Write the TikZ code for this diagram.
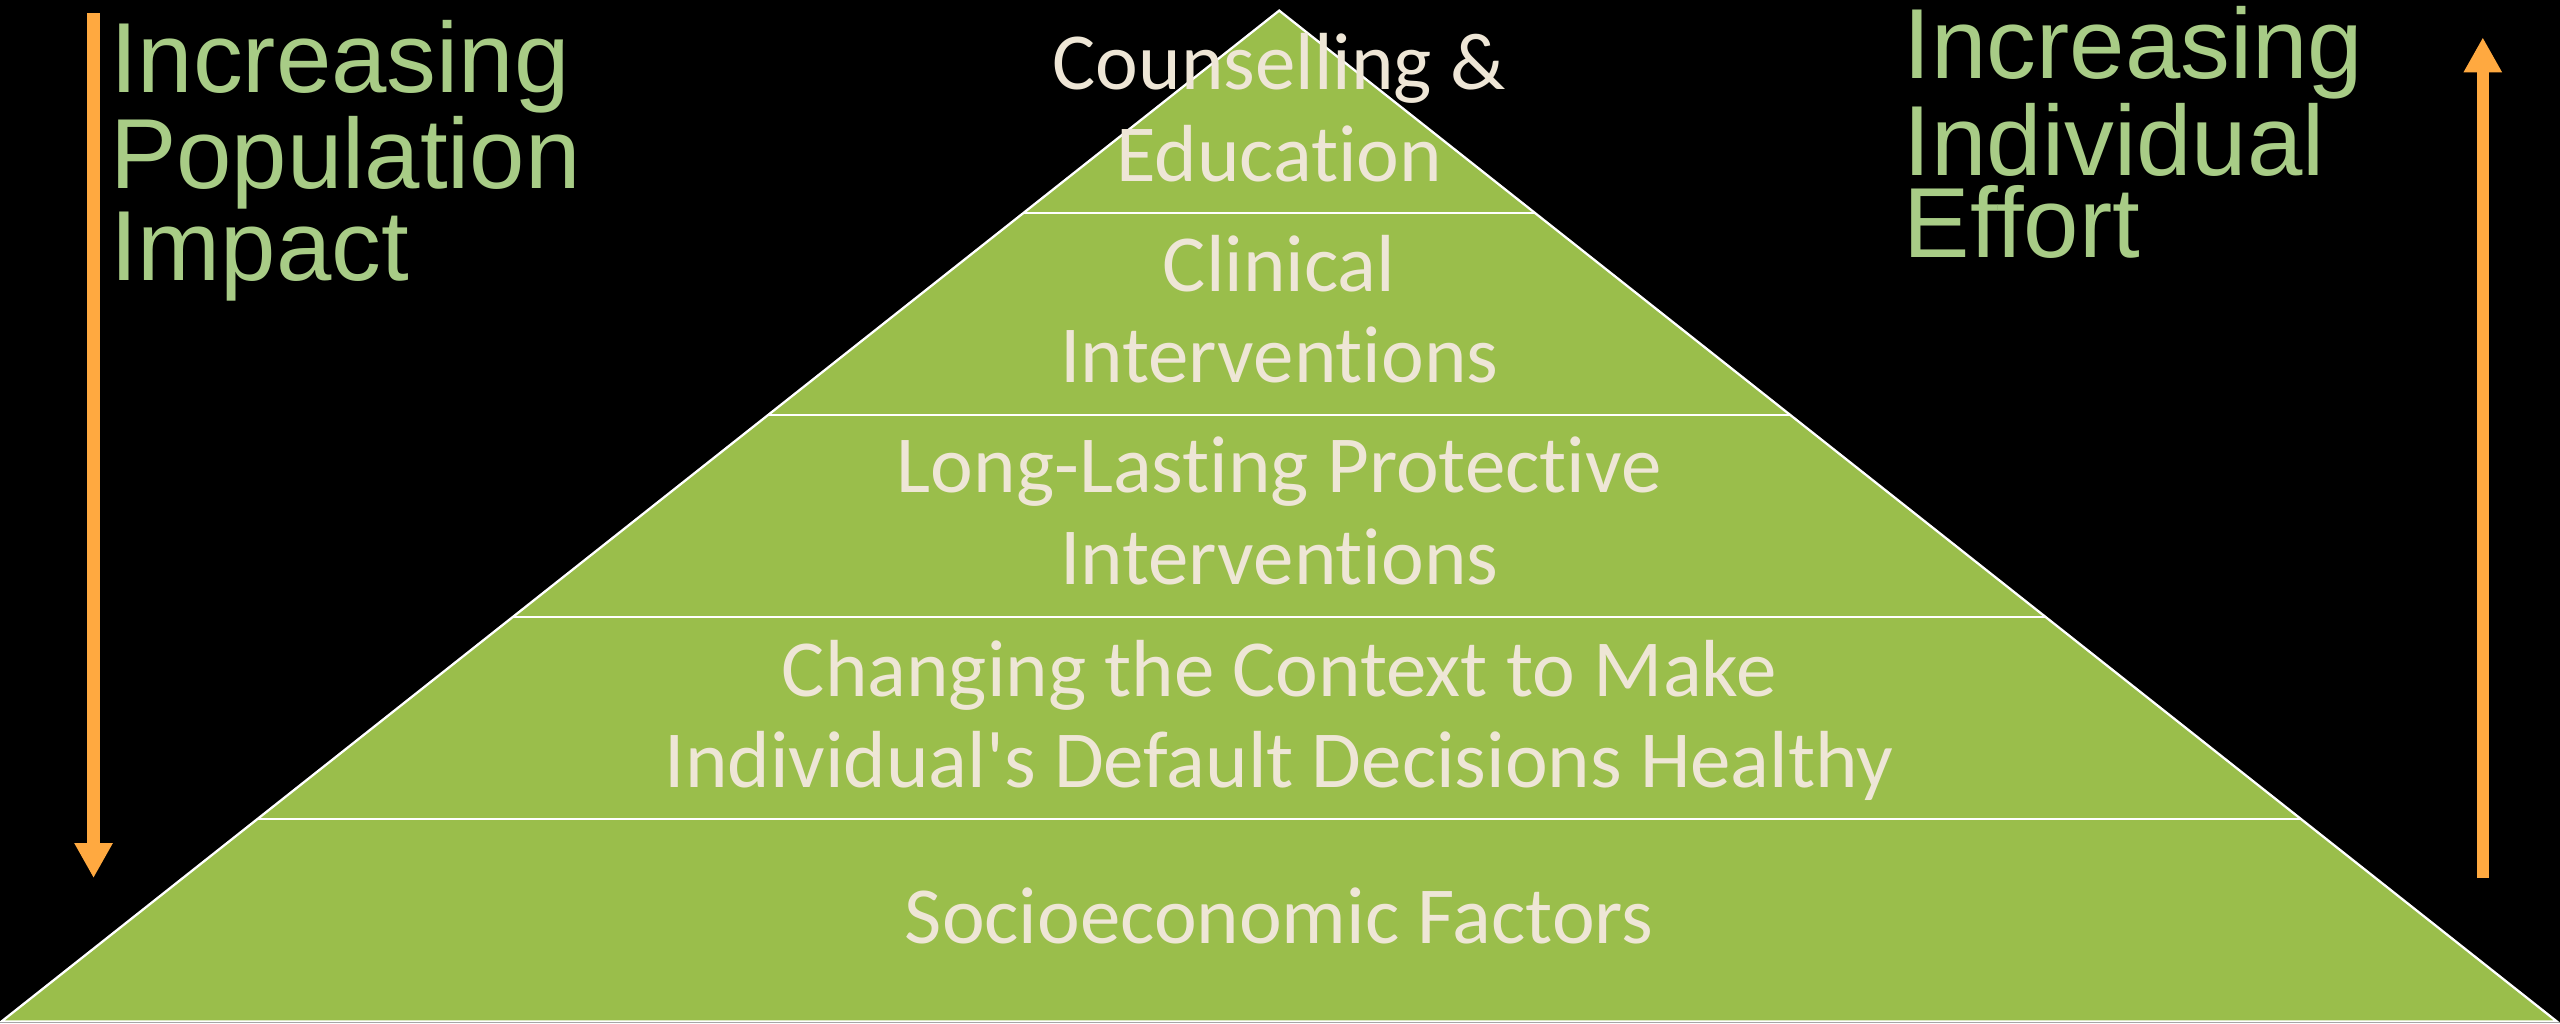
\documentclass[tikz,border=0pt]{standalone}
\usepackage{fontspec}
\usetikzlibrary{arrows.meta,calc}
\newfontfamily\pyrfont[Ligatures={NoCommon}]{Carlito}
\newfontfamily\sidefont{Liberation Sans}
\definecolor{pyrgreen}{HTML}{9ABE4B}
\definecolor{cream}{HTML}{EEE6D6}
\definecolor{sidegreen}{HTML}{A8CC86}
\definecolor{arroworange}{HTML}{FFA940}
\begin{document}
\begin{tikzpicture}[x=0.5pt,y=-0.5pt,
  layertext/.style={text=cream, font=\pyrfont\fontsize{24.8pt}{27.9pt}\selectfont, align=center, anchor=base, inner sep=0pt},
  sidetext/.style={text=sidegreen, font=\sidefont\fontsize{30.5pt}{25.3pt}\selectfont, align=left, anchor=base west, inner sep=0pt},
  bigarrow/.style={draw=arroworange, line width=3.8pt, -{Triangle[width=11pt,length=10.7pt]}},
  edge/.style={draw=white, line width=0.7pt}]
\fill[black] (0,0) rectangle (1568,626.6);
\useasboundingbox (0,0) rectangle (1568,626.6);
% pyramid
\coordinate (A) at (783.5,6.5);
\coordinate (L) at (1,625.6);
\coordinate (R) at (1566,625.6);
\fill[pyrgreen] (A) -- (L) -- (R) -- cycle;
\foreach \t/\n in {0.2/1,0.4/2,0.6/3,0.8/4}{
  \coordinate (dl\n) at ($(A)!\t!(L)$);
  \coordinate (dr\n) at ($(A)!\t!(R)$);
  \draw[edge] (dl\n) -- (dr\n);
}
\draw[edge, line join=miter] (A) -- (L) -- (R) -- cycle;
% layer texts (anchor = baseline of the last line)
\node[layertext] (t1) at (783.5,110.9) {Counselling \&\\Education};
\node[layertext] (t2) at (783.5,234.5) {Clinical\\Interventions};
\node[layertext] (t3) at (783.5,357.7) {Long-Lasting Protective\\Interventions};
\node[layertext] (t4) at (783.5,482.4) {Changing the Context to Make\\Individual's Default Decisions Healthy};
\node[layertext] (t5) at (783.5,577.8) {Socioeconomic Factors};
% side texts
\node[sidetext] (lt) at (67,172.1) {Increasing\\Population\\Impact};
\node[sidetext] (rt) at (1165.7,157.8) {Increasing\\Individual\\Effort};
% arrows
\coordinate (la1) at (57.3,8.2);
\coordinate (la2) at (57.3,537.8);
\coordinate (ra1) at (1520.7,537.8);
\coordinate (ra2) at (1520.7,22.9);
\draw[bigarrow] (la1) -- (la2);
\draw[bigarrow] (ra1) -- (ra2);
\end{tikzpicture}
\end{document}
